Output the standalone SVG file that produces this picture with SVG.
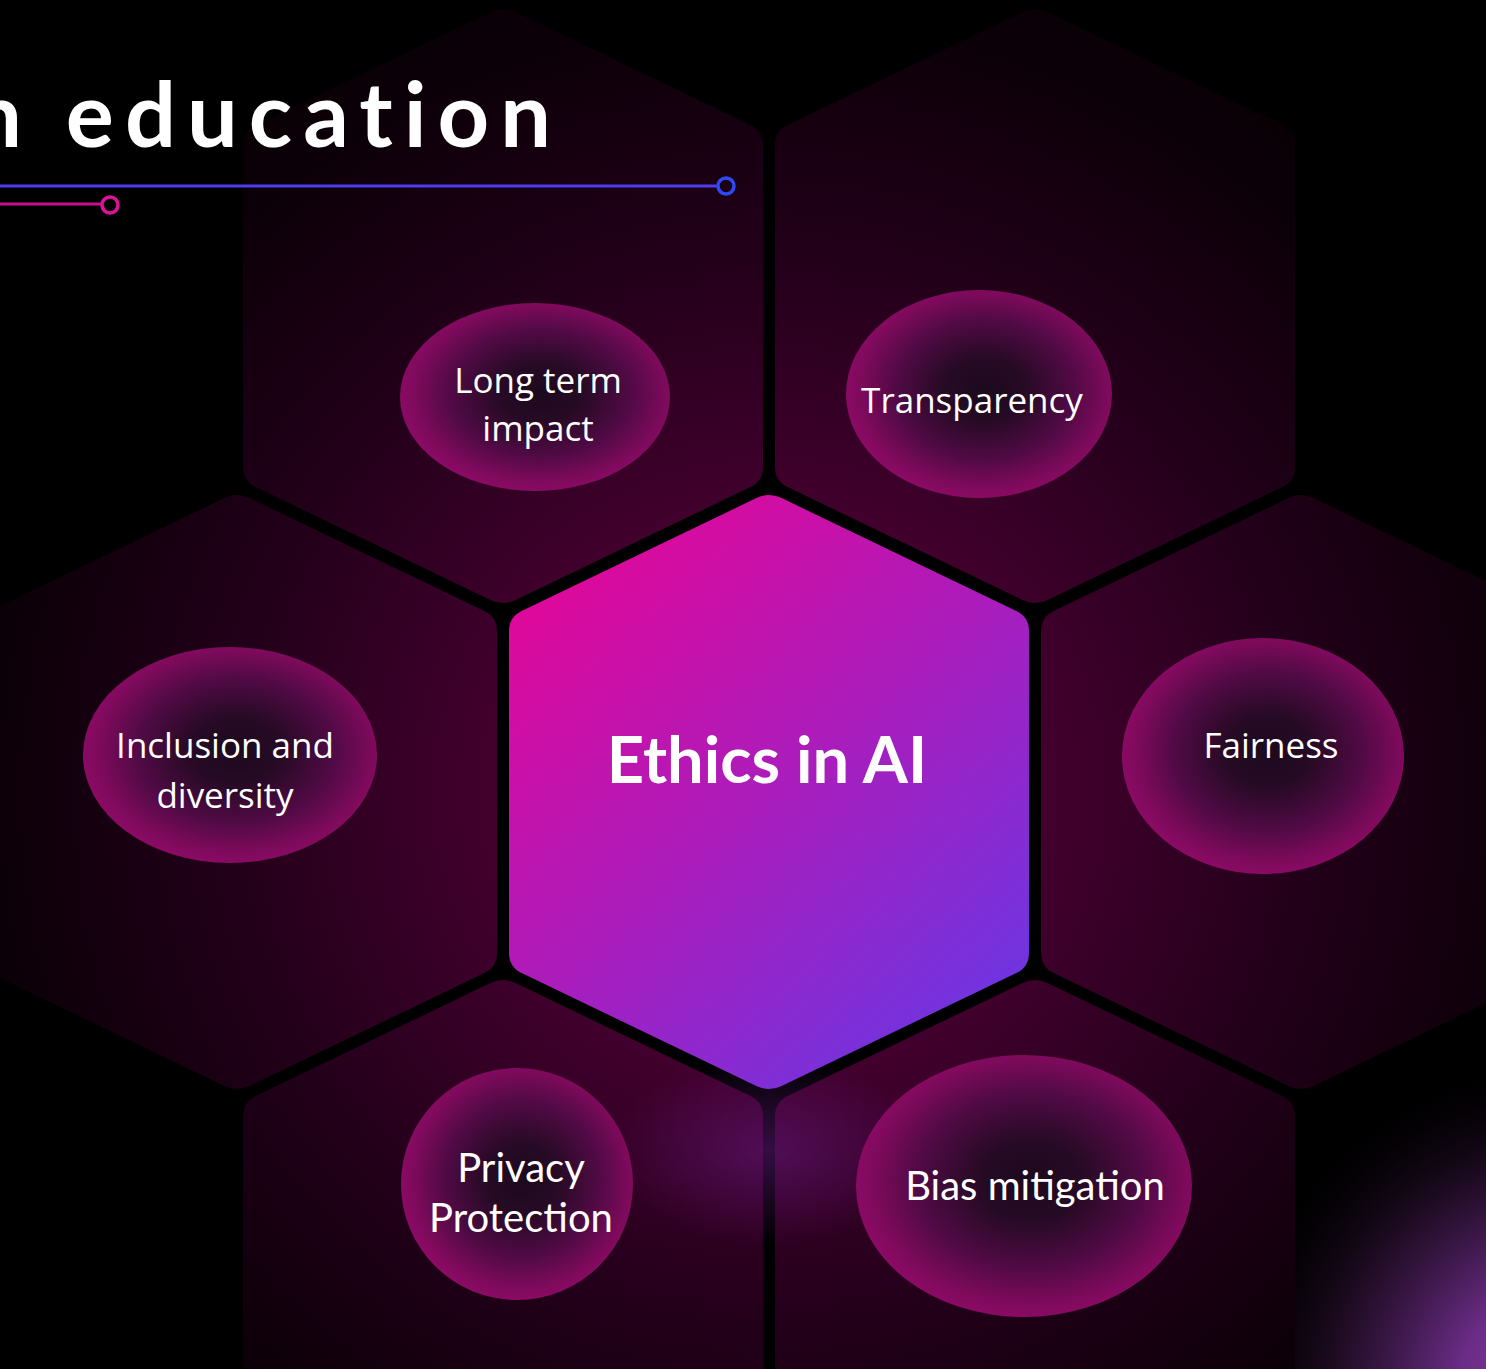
<svg xmlns="http://www.w3.org/2000/svg" width="1486" height="1369" viewBox="0 0 1486 1369">
  <defs>
    <radialGradient id="outerG" gradientUnits="userSpaceOnUse" cx="769" cy="792" r="860">
      <stop offset="0" stop-color="#5a003e"/>
      <stop offset="0.3" stop-color="#45002f"/>
      <stop offset="0.62" stop-color="#23001a"/>
      <stop offset="0.9" stop-color="#0c0008"/>
      <stop offset="1" stop-color="#080005"/>
    </radialGradient>
    <linearGradient id="centerG" gradientUnits="userSpaceOnUse" x1="560" y1="560" x2="1000" y2="1060">
      <stop offset="0" stop-color="#e0089a"/>
      <stop offset="0.5" stop-color="#a71ebe"/>
      <stop offset="1" stop-color="#6638e6"/>
    </linearGradient>
    <radialGradient id="bubbleG" cx="0.52" cy="0.48" r="0.52">
      <stop offset="0" stop-color="#1c0a1e"/>
      <stop offset="0.3" stop-color="#270a25"/>
      <stop offset="0.65" stop-color="#520a46"/>
      <stop offset="0.9" stop-color="#7e0a5c"/>
      <stop offset="1" stop-color="#8a0a64"/>
    </radialGradient>
    <radialGradient id="glowBottom" cx="0.5" cy="0.5" r="0.5">
      <stop offset="0" stop-color="#6a1a86" stop-opacity="0.5"/>
      <stop offset="1" stop-color="#6a1a86" stop-opacity="0"/>
    </radialGradient>
    <radialGradient id="glowCorner" gradientUnits="userSpaceOnUse" cx="1560" cy="1390" r="340">
      <stop offset="0" stop-color="#8a3aa0"/>
      <stop offset="0.3" stop-color="#6a2c86"/>
      <stop offset="0.65" stop-color="#2a1030" stop-opacity="0.8"/>
      <stop offset="1" stop-color="#000000" stop-opacity="0"/>
    </radialGradient>
    <style>
      .hex { fill: url(#outerG); }
      .bubble { fill: url(#bubbleG); }
      .lbl { font-family: "Open Sans", "Noto Sans", sans-serif; font-size: 35px; fill: #ffffff; text-anchor: middle; }
      .lbl2 { font-family: "Lato", "Open Sans", sans-serif; font-size: 40px; fill: #ffffff; text-anchor: middle; }
      .title { font-family: "Lato", "Open Sans", sans-serif; font-weight: 700; font-size: 90px; fill: #ffffff; letter-spacing: 11px; text-anchor: end; }
      .center { font-family: "Lato", "Open Sans", sans-serif; font-weight: 700; font-size: 65px; fill: #ffffff; text-anchor: middle; }
    </style>
  </defs>

  <rect x="0" y="0" width="1486" height="1369" fill="#000000"/>
  <rect x="1100" y="1000" width="386" height="369" fill="url(#glowCorner)"/>

  <g id="hex-long-term">
    <path class="hex" d="M490.4,12.1 q12.6,-6.1 25.2,0 l234.8,112.8 q12.6,6.1 12.6,20.1 l0,322 q0,14 -12.6,20.1 l-234.8,112.8 q-12.6,6.1 -25.2,0 l-234.8,-112.8 q-12.6,-6.1 -12.6,-20.1 l0,-322 q0,-14 12.6,-20.1 z"/>
    <ellipse class="bubble" cx="535" cy="397" rx="135" ry="94"/>
    <text class="lbl" x="538" y="393">Long term</text>
    <text class="lbl" x="538" y="441">impact</text>
  </g>

  <g id="hex-transparency">
    <path class="hex" d="M1022.4,12.1 q12.6,-6.1 25.2,0 l234.8,112.8 q12.6,6.1 12.6,20.1 l0,322 q0,14 -12.6,20.1 l-234.8,112.8 q-12.6,6.1 -25.2,0 l-234.8,-112.8 q-12.6,-6.1 -12.6,-20.1 l0,-322 q0,-14 12.6,-20.1 z"/>
    <ellipse class="bubble" cx="979" cy="394" rx="133" ry="104"/>
    <text class="lbl" x="972" y="413">Transparency</text>
  </g>

  <g id="hex-inclusion">
    <path class="hex" d="M224.4,498.1 q12.6,-6.1 25.2,0 l234.8,112.8 q12.6,6.1 12.6,20.1 l0,322 q0,14 -12.6,20.1 l-234.8,112.8 q-12.6,6.1 -25.2,0 l-234.8,-112.8 q-12.6,-6.1 -12.6,-20.1 l0,-322 q0,-14 12.6,-20.1 z"/>
    <ellipse class="bubble" cx="230" cy="755" rx="147" ry="108"/>
    <text class="lbl" x="225" y="758">Inclusion and</text>
    <text class="lbl" x="225" y="808">diversity</text>
  </g>

  <g id="hex-fairness">
    <path class="hex" d="M1288.4,498.1 q12.6,-6.1 25.2,0 l234.8,112.8 q12.6,6.1 12.6,20.1 l0,322 q0,14 -12.6,20.1 l-234.8,112.8 q-12.6,6.1 -25.2,0 l-234.8,-112.8 q-12.6,-6.1 -12.6,-20.1 l0,-322 q0,-14 12.6,-20.1 z"/>
    <ellipse class="bubble" cx="1263" cy="756" rx="141" ry="118"/>
    <text class="lbl" x="1271" y="758">Fairness</text>
  </g>

  <g id="hex-privacy">
    <path class="hex" d="M490.4,983.1 q12.6,-6.1 25.2,0 l234.8,112.8 q12.6,6.1 12.6,20.1 l0,322 q0,14 -12.6,20.1 l-234.8,112.8 q-12.6,6.1 -25.2,0 l-234.8,-112.8 q-12.6,-6.1 -12.6,-20.1 l0,-322 q0,-14 12.6,-20.1 z"/>
  </g>

  <g id="hex-bias">
    <path class="hex" d="M1022.4,983.1 q12.6,-6.1 25.2,0 l234.8,112.8 q12.6,6.1 12.6,20.1 l0,322 q0,14 -12.6,20.1 l-234.8,112.8 q-12.6,6.1 -25.2,0 l-234.8,-112.8 q-12.6,-6.1 -12.6,-20.1 l0,-322 q0,-14 12.6,-20.1 z"/>
  </g>

  <ellipse cx="769" cy="1150" rx="160" ry="95" fill="url(#glowBottom)"/>

  <g id="bubble-privacy">
    <ellipse class="bubble" cx="517" cy="1184" rx="116" ry="116"/>
    <text class="lbl2" x="521" y="1182">Privacy</text>
    <text class="lbl2" x="521" y="1232">Protection</text>
  </g>

  <g id="bubble-bias">
    <ellipse class="bubble" cx="1024" cy="1186" rx="168" ry="131"/>
    <text class="lbl2" x="1035" y="1200">Bias mitigation</text>
  </g>

  <g id="hex-ethics">
    <path fill="url(#centerG)" d="M756.4,498.1 q12.6,-6.1 25.2,0 l234.8,112.8 q12.6,6.1 12.6,20.1 l0,322 q0,14 -12.6,20.1 l-234.8,112.8 q-12.6,6.1 -25.2,0 l-234.8,-112.8 q-12.6,-6.1 -12.6,-20.1 l0,-322 q0,-14 12.6,-20.1 z"/>
    <text class="center" x="767" y="783">Ethics in AI</text>
  </g>

  <g id="title">
    <text class="title" x="562" y="147">n education</text>
    <line x1="0" y1="186" x2="718" y2="186" stroke="#4d3cf0" stroke-width="3"/>
    <circle cx="726" cy="186" r="8" fill="none" stroke="#2f48f5" stroke-width="3.5"/>
    <line x1="0" y1="204" x2="102" y2="204" stroke="#c8108c" stroke-width="3"/>
    <circle cx="110" cy="205" r="8" fill="none" stroke="#e0109a" stroke-width="3.5"/>
  </g>
</svg>
